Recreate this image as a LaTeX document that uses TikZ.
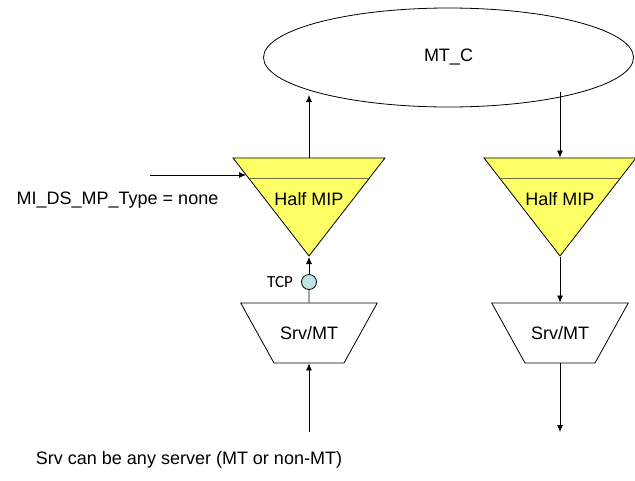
\documentclass[tikz,border=0pt]{standalone}
\usepackage{fontspec}
\setmainfont{Liberation Sans}
\newfontfamily\tcpfont{Carlito}
\usetikzlibrary{shapes.geometric,calc,arrows.meta}
\definecolor{mipyellow}{RGB}{255,255,102}
\definecolor{tcpblue}{RGB}{190,228,230}
\definecolor{bandgray}{RGB}{110,110,60}

\begin{document}
\begin{tikzpicture}[x=1pt,y=-1pt,>={Latex[length=7pt,width=6pt]},line width=0.8pt,
    font=\fontsize{18}{21}\selectfont]
  \tikzstyle{mip}=[draw, fill=mipyellow, isosceles triangle, isosceles triangle stretches,
    shape border rotate=-90, minimum width=152pt, minimum height=98pt, inner sep=0pt]
  \tikzstyle{srv}=[draw, fill=white, trapezium, trapezium angle=61, shape border rotate=180,
    text width=70pt, align=center, inner xsep=0pt, text height=13pt, text depth=0pt, inner ysep=23.5pt]
  \tikzstyle{band}=[draw=bandgray, line width=1.2pt]

  \useasboundingbox (0,0) rectangle (635,480);

  \node[draw, ellipse, minimum width=370pt, minimum height=99pt] (mtc) at (448.5,57.5) {MT\_C};

  \node[mip, anchor=apex] (lmip) at (309,257) {};
  \node[mip, anchor=apex] (rmip) at (560,257) {};
  \draw[band] ($(lmip.left corner)!0.214!(lmip.apex)$) -- ($(lmip.right corner)!0.214!(lmip.apex)$);
  \draw[band] ($(rmip.left corner)!0.214!(rmip.apex)$) -- ($(rmip.right corner)!0.214!(rmip.apex)$);
  \node (lmiptxt) at (309,199) {Half MIP};
  \node (rmiptxt) at (560,199) {Half MIP};

  \node[srv] (lsrv) at (309,333) {Srv/MT};
  \node[srv] (rsrv) at (560,333) {Srv/MT};

  \node[draw, circle, fill=tcpblue, minimum size=15pt, inner sep=0pt] (tcp) at (309,282) {};
  \node[font=\tcpfont\fontsize{17}{20}\selectfont] (tcptxt) at (280,282) {TCP};

  \node (typetxt) at (117.5,200) {MI\_DS\_MP\_Type = none};
  \node (note) at (189,460) {Srv can be any server (MT or non-MT)};

  \coordinate (lup) at (309,95);
  \coordinate (rdown) at (560,92);
  \coordinate (typein) at (150,175);
  \coordinate (typeend) at (246,175);
  \coordinate (lbot) at (309,432);
  \coordinate (rbot) at (560,432);

  \draw[->] (lmip.lower side) -- (lup);
  \draw[->] (rdown) -- (rmip.lower side);
  \draw[->] (typein) -- (typeend);
  \draw[->] (tcp) -- (lmip.apex);
  \draw (lsrv) -- (tcp);
  \draw[->] (lbot) -- (lsrv);
  \draw[->] (rmip.apex) -- (rsrv);
  \draw[->] (rsrv) -- (rbot);
\end{tikzpicture}
\end{document}
